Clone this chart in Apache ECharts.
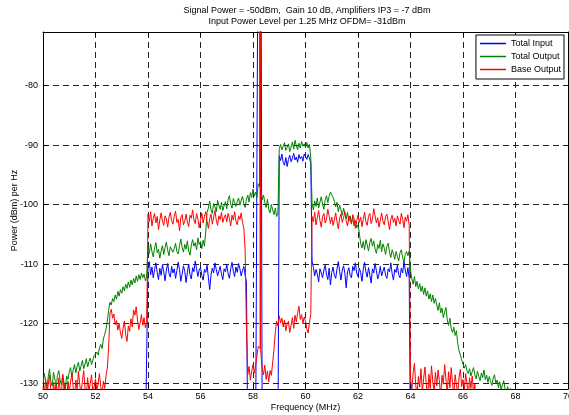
<!DOCTYPE html>
<html><head><meta charset="utf-8">
<script src="https://cdn.jsdelivr.net/npm/echarts@6/dist/echarts.min.js"></script>
<style>html,body{margin:0;padding:0;background:#fff}#c{width:569px;height:415px}</style>
</head><body><div id="c"></div>
<script>
const titleLines = ['Signal Power = -50dBm,  Gain 10 dB, Amplifiers IP3 = -7 dBm', 'Input Power Level per 1.25 MHz OFDM= -31dBm'];
const seriesNames = ['Total Input', 'Total Output', 'Base Output'];
const xAxisName = 'Frequency (MHz)';
const yAxisName = 'Power (dBm) per Hz';
// sampling grid: 50.00 .. 70.00 MHz in 0.05 MHz steps (20 samples per row)
const FREQ_START = 50, FREQ_STEP = 0.05;

const totalInput = [
-140,-140,-140,-140,-140,-140,-140,-140,-140,-140,-140,-140,-140,-140,-140,-140,-140,-140,-140,-140,
-140,-140,-140,-140,-140,-140,-140,-140,-140,-140,-140,-140,-140,-140,-140,-140,-140,-140,-140,-140,
-140,-140,-140,-140,-140,-140,-140,-140,-140,-140,-140,-140,-140,-140,-140,-140,-140,-140,-140,-140,
-140,-140,-140,-140,-140,-140,-140,-140,-140,-140,-140,-140,-140,-140,-140,-140,-140,-140,-140,-140,
-110.2,-109.6,-111.8,-110.5,-112.3,-110.9,-109.8,-111.4,-112.6,-110.7,-111.9,-110.1,-111.3,-112.8,-111.0,-109.9,-111.6,-112.2,-110.4,-111.5,
-110.8,-112.4,-111.1,-109.7,-110.9,-112.9,-111.7,-110.3,-111.2,-113.1,-111.4,-110.0,-111.8,-112.5,-110.6,-111.3,-109.5,-110.8,-112.1,-111.0,
-110.6,-111.9,-112.7,-110.9,-111.4,-110.2,-112.3,-114.3,-111.8,-110.7,-111.5,-109.8,-110.9,-112.0,-111.2,-110.4,-111.7,-112.6,-110.8,-111.3,
-110.1,-111.6,-112.4,-110.8,-109.7,-111.2,-112.1,-110.5,-111.4,-109.9,-110.8,-112.0,-111.1,-110.4,-111.9,-113.0,-140,-140,-140,-140,
-140,-140,-140,-140,-45,-30,-45,-140,-140,-140,-140,-140,-140,-140,-140,-140,-140,-140,-140,-140,
-91.8,-92.6,-91.5,-92.9,-93.4,-92.1,-93.6,-92.4,-91.7,-92.8,-92.2,-91.4,-92.5,-92.0,-92.9,-91.6,-92.3,-91.9,-92.7,-91.5,
-91.8,-92.4,-91.6,-92.2,-93.0,-109.5,-110.6,-112.0,-110.9,-111.7,-113.0,-110.8,-111.5,-112.3,-111.0,-110.2,-111.8,-112.6,-110.7,-113.5,
-111.4,-110.5,-111.9,-112.4,-110.8,-109.6,-111.2,-112.7,-111.0,-110.3,-111.6,-114.0,-111.3,-110.6,-111.9,-112.3,-110.4,-111.1,-109.8,-111.5,
-112.1,-110.7,-111.4,-112.9,-110.9,-109.7,-111.3,-112.2,-110.6,-111.8,-113.2,-110.8,-111.5,-109.9,-111.1,-112.5,-111.7,-110.4,-112.0,-111.2,
-110.5,-111.9,-112.4,-110.8,-111.3,-109.8,-111.6,-112.7,-110.9,-111.4,-110.2,-111.8,-112.3,-110.7,-111.5,-109.6,-111.0,-112.1,-110.6,-112.4,
-140,-140,-140,-140,-140,-140,-140,-140,-140,-140,-140,-140,-140,-140,-140,-140,-140,-140,-140,-140,
-140,-140,-140,-140,-140,-140,-140,-140,-140,-140,-140,-140,-140,-140,-140,-140,-140,-140,-140,-140,
-140,-140,-140,-140,-140,-140,-140,-140,-140,-140,-140,-140,-140,-140,-140,-140,-140,-140,-140,-140,
-140,-140,-140,-140,-140,-140,-140,-140,-140,-140,-140,-140,-140,-140,-140,-140,-140,-140,-140,-140,
-140,-140,-140,-140,-140,-140,-140,-140,-140,-140,-140,-140,-140,-140,-140,-140,-140,-140,-140,-140,
-140,-140,-140,-140,-140,-140,-140,-140,-140,-140,-140,-140,-140,-140,-140,-140,-140,-140,-140,-140,
-140
];

const totalOutput = [
-130.2,-128.4,-129.6,-131.0,-128.9,-127.6,-129.8,-130.5,-128.2,-129.3,-130.8,-128.7,-127.9,-129.5,-130.3,-128.6,-129.9,-131.2,-128.8,-129.4,
-128.1,-127.4,-129.0,-127.8,-126.9,-128.3,-127.2,-126.5,-128.0,-127.1,-126.2,-127.6,-126.8,-125.9,-127.3,-126.4,-125.8,-126.9,-126.1,-125.4,
-125.6,-124.8,-125.3,-124.1,-123.5,-124.2,-122.6,-121.8,-121.0,-119.6,-117.8,-116.4,-116.9,-115.8,-116.3,-115.2,-115.9,-114.6,-115.4,-114.3,
-114.9,-113.8,-114.5,-113.4,-114.1,-113.0,-113.9,-112.7,-113.5,-112.4,-113.2,-112.0,-112.9,-111.8,-112.6,-111.5,-112.3,-111.7,-112.8,-112.0,
-107.0,-108.2,-106.6,-107.9,-108.8,-107.3,-106.4,-108.1,-107.5,-109.0,-107.8,-106.9,-108.4,-107.2,-106.3,-107.7,-108.6,-107.1,-106.8,-108.0,
-107.4,-106.5,-107.9,-108.3,-106.9,-105.8,-107.2,-108.0,-106.7,-107.5,-106.1,-107.8,-108.5,-106.8,-105.9,-107.0,-106.4,-107.6,-105.6,-106.7,
-106.2,-107.4,-106.0,-107.0,-104.5,-101.3,-100.6,-99.4,-100.9,-101.5,-99.8,-100.4,-101.2,-99.3,-100.1,-100.8,-99.6,-101.0,-100.2,-99.5,
-100.7,-99.2,-98.5,-99.9,-100.6,-99.0,-98.7,-100.3,-99.5,-98.9,-100.1,-99.3,-98.6,-99.8,-100.5,-99.1,-98.4,-99.6,-98.0,-98.8,
-97.4,-98.6,-97.9,-98.8,-96.5,-97.0,-97.5,-99.2,-98.4,-99.7,-100.5,-99.1,-100.8,-101.4,-100.0,-100.9,-101.7,-100.6,-102.0,-101.3,
-90.6,-89.9,-90.8,-90.2,-89.6,-90.9,-90.4,-89.8,-91.1,-90.3,-89.5,-90.7,-89.2,-90.1,-90.8,-89.7,-90.5,-89.4,-90.2,-89.8,
-90.4,-89.6,-90.5,-89.9,-92.0,-99.8,-100.9,-99.4,-100.3,-98.9,-100.6,-99.6,-98.7,-99.9,-100.8,-99.2,-98.5,-99.7,-98.6,-97.9,
-97.6,-98.8,-99.5,-100.4,-99.6,-101.2,-100.1,-100.9,-101.8,-100.6,-101.5,-102.4,-101.3,-102.8,-101.9,-103.0,-102.2,-103.6,-102.7,-103.9,
-103.4,-104.8,-106.5,-107.3,-106.2,-107.6,-105.9,-106.8,-107.8,-106.4,-105.7,-107.0,-106.1,-107.5,-108.2,-106.7,-107.4,-106.0,-107.9,-106.6,
-107.3,-108.4,-107.0,-106.5,-108.0,-108.9,-107.6,-108.3,-109.2,-107.9,-108.7,-109.5,-108.1,-107.6,-108.9,-109.7,-108.4,-107.9,-108.6,-107.8,
-111.0,-112.5,-113.4,-112.1,-113.8,-112.9,-114.2,-113.3,-114.6,-113.7,-115.1,-114.0,-115.4,-114.5,-115.9,-115.0,-116.3,-115.2,-116.6,-115.8,
-116.9,-117.8,-116.5,-118.2,-117.4,-119.0,-118.1,-117.3,-119.4,-120.3,-119.1,-120.8,-121.5,-120.6,-122.0,-121.2,-123.4,-124.6,-125.3,-126.1,
-126.8,-127.5,-126.9,-127.9,-128.4,-127.6,-128.8,-128.1,-127.4,-128.6,-129.3,-128.0,-128.9,-129.6,-128.3,-129.1,-127.8,-129.4,-128.7,-129.9,
-128.9,-129.7,-130.4,-129.2,-128.6,-130.1,-129.5,-130.8,-129.8,-131.2,-130.3,-129.6,-130.9,-131.5,-130.6,-131.8,-130.9,-131.6,-132.2,-131.4,
-133,-133,-133,-133,-133,-133,-133,-133,-133,-133,-133,-133,-133,-133,-133,-133,-133,-133,-133,-133,
-133,-133,-133,-133,-133,-133,-133,-133,-133,-133,-133,-133,-133,-133,-133,-133,-133,-133,-133,-133,
-133
];

const baseOutput = [
-130.6,-131.8,-129.4,-132.5,-130.1,-128.7,-131.3,-133.0,-129.9,-131.6,-130.4,-132.8,-129.2,-130.9,-132.1,-128.5,-131.0,-130.2,-133.4,-129.7,
-131.5,-129.8,-128.3,-130.7,-132.4,-129.5,-131.1,-128.0,-130.3,-131.9,-129.6,-127.9,-130.8,-132.2,-129.1,-131.4,-130.0,-128.6,-131.7,-130.5,
-129.3,-131.2,-130.1,-128.4,-130.6,-131.8,-129.7,-130.9,-128.8,-127.5,-124.0,-118.3,-117.6,-119.1,-118.4,-120.2,-119.5,-121.1,-120.0,-121.6,
-122.5,-120.8,-119.6,-121.9,-123.0,-120.4,-121.3,-119.2,-120.6,-117.7,-118.6,-117.2,-119.4,-121.0,-119.9,-118.5,-120.3,-119.0,-120.7,-119.8,
-101.6,-102.9,-101.2,-103.6,-102.3,-101.5,-103.1,-102.0,-104.2,-102.6,-101.4,-102.8,-103.5,-101.9,-102.4,-103.8,-102.1,-101.3,-102.7,-103.3,
-102.0,-101.1,-103.0,-102.5,-104.4,-102.2,-101.7,-103.4,-102.8,-101.6,-102.9,-103.7,-101.8,-102.3,-100.9,-102.6,-103.2,-101.5,-102.4,-103.9,
-102.7,-101.4,-103.1,-102.0,-101.2,-102.8,-104.0,-102.4,-101.6,-103.3,-102.1,-101.0,-102.6,-103.5,-101.9,-102.5,-101.3,-103.0,-102.2,-101.7,
-102.9,-101.5,-102.3,-103.6,-101.8,-102.6,-101.2,-102.8,-103.4,-101.9,-102.5,-101.4,-103.0,-104.0,-107.5,-121.0,-128.6,-127.2,-129.5,-128.0,
-126.9,-128.3,-127.0,-125.4,-123.8,-124.0,-124.5,-127.5,-128.6,-127.0,-129.4,-128.0,-129.8,-127.9,-128.7,-126.5,-124.3,-121.5,-119.6,-120.4,
-118.7,-119.9,-119.1,-120.6,-119.4,-121.2,-120.1,-119.6,-121.5,-120.3,-119.0,-120.8,-118.6,-119.7,-118.2,-117.1,-119.3,-118.5,-120.0,-118.9,
-119.6,-120.9,-121.6,-119.8,-118.5,-102.0,-102.9,-101.3,-103.4,-102.2,-101.0,-102.7,-103.8,-102.0,-101.5,-103.1,-102.4,-100.8,-101.9,-103.2,
-102.1,-103.5,-102.6,-101.4,-102.9,-104.1,-102.3,-101.6,-103.0,-102.2,-101.2,-102.8,-103.6,-101.9,-102.5,-103.3,-101.7,-102.4,-104.0,-102.7,
-101.8,-103.0,-102.1,-103.7,-102.5,-101.3,-102.9,-103.5,-102.0,-101.5,-103.2,-102.4,-100.7,-101.9,-103.1,-102.2,-103.8,-102.6,-101.4,-102.8,
-103.4,-102.0,-101.6,-102.9,-104.2,-102.5,-101.8,-103.0,-102.3,-103.6,-101.9,-102.7,-103.3,-101.5,-102.4,-103.9,-102.1,-102.8,-101.7,-103.5,
-129.0,-131.2,-128.3,-126.7,-130.4,-132.0,-128.9,-130.7,-127.6,-131.5,-129.2,-127.3,-130.1,-132.6,-128.5,-130.9,-127.1,-129.8,-131.4,-128.2,
-130.5,-127.8,-129.6,-132.3,-128.7,-130.2,-126.9,-129.3,-131.7,-128.1,-130.8,-127.4,-129.9,-132.1,-128.6,-130.3,-131.8,-129.0,-127.7,-130.6,
-129.4,-131.3,-128.4,-130.0,-132.5,-129.1,-130.9,-128.8,-131.6,-130.2,-133.0,-131.5,-132.8,-134.0,-133.2,-134.5,-133.6,-134.8,-135.0,-134.2,
-135,-135,-135,-135,-135,-135,-135,-135,-135,-135,-135,-135,-135,-135,-135,-135,-135,-135,-135,-135,
-135,-135,-135,-135,-135,-135,-135,-135,-135,-135,-135,-135,-135,-135,-135,-135,-135,-135,-135,-135,
-135,-135,-135,-135,-135,-135,-135,-135,-135,-135,-135,-135,-135,-135,-135,-135,-135,-135,-135,-135,
-135
];

// narrow CW carrier (goes off the top of the chart), inserted between the 58.25 and 58.30 samples
const carrierFreqs = [58.27, 58.27, 58.29, 58.29];
const carrierOutput = [-97.2, -40, -40, -97.4];
const carrierBase = [-124.2, -40, -40, -124.4];

const seriesValues = [totalInput, totalOutput, baseOutput];
const seriesCarrier = [null, carrierOutput, carrierBase];
const seriesColors = ['#0000ff', '#008000', '#ff0000'];
const FONT = "'Liberation Sans', Arial, Helvetica, sans-serif";

const freqAt = i => +(FREQ_START + i * FREQ_STEP).toFixed(2);
function buildData(values, carrier) {
  const out = [];
  values.forEach((v, i) => {
    const f = freqAt(i);
    out.push([f, v]);
    if (carrier && f === 58.25) carrierFreqs.forEach((cf, j) => out.push([cf, carrier[j]]));
  });
  return out;
}
const gridLine = { show: true, lineStyle: { color: '#222', width: 1, type: [6, 4] } };

const chart = echarts.init(document.getElementById('c'), null, { renderer: 'canvas' });
chart.setOption({
  animation: false,
  backgroundColor: '#fff',
  textStyle: { fontFamily: FONT },
  title: {
    text: titleLines.join('\n'), left: 307, top: 5, padding: 0, textAlign: 'center',
    textStyle: { fontSize: 9, fontWeight: 'normal', lineHeight: 11, color: '#000', fontFamily: FONT }
  },
  legend: {
    data: seriesNames.map((n, k) => ({ name: n, itemStyle: { color: seriesColors[k], borderWidth: 0 } })),
    orient: 'vertical', right: 5, top: 35,
    itemWidth: 26, itemHeight: 1.5, itemGap: 2, icon: 'rect',
    itemStyle: { borderWidth: 0 },
    padding: [3, 3, 4, 4], backgroundColor: '#fff', borderColor: '#000', borderWidth: 1, borderRadius: 0,
    textStyle: { fontSize: 9, lineHeight: 11, color: '#000', fontFamily: FONT }
  },
  grid: { left: 43, right: 1, top: 32, bottom: 26, containLabel: false, outerBoundsMode: 'none' },
  xAxis: [{
    type: 'value', min: 50, max: 70, interval: 2, position: 'bottom',
    name: xAxisName, nameLocation: 'middle', nameGap: 14, nameMoveOverlap: false,
    nameTextStyle: { fontSize: 9, color: '#000', fontFamily: FONT, verticalAlign: 'top' },
    axisLine: { show: true, onZero: false, lineStyle: { color: '#000', width: 1 } },
    axisTick: { show: true, inside: true, length: 5, lineStyle: { color: '#000' } },
    axisLabel: { fontSize: 9, color: '#000', margin: 3, fontFamily: FONT },
    splitLine: gridLine
  }, {
    type: 'value', min: 50, max: 70, interval: 2, position: 'top',
    axisLine: { show: true, onZero: false, lineStyle: { color: '#000', width: 1 } },
    axisTick: { show: true, inside: true, length: 5, lineStyle: { color: '#000' } },
    axisLabel: { show: false }, splitLine: { show: false }
  }],
  yAxis: [{
    type: 'value', min: -131, max: -71, splitNumber: 6, position: 'left',
    name: yAxisName, nameLocation: 'middle', nameGap: 24, nameMoveOverlap: false,
    nameTextStyle: { fontSize: 9, color: '#000', fontFamily: FONT },
    axisLine: { show: true, onZero: false, lineStyle: { color: '#000', width: 1 } },
    axisTick: { show: true, inside: true, length: 5, lineStyle: { color: '#000' } },
    axisLabel: { fontSize: 9, color: '#000', margin: 5, fontFamily: FONT,
      formatter: v => (Math.round(v) % 10 === 0 ? String(Math.round(v)) : '') },
    splitLine: gridLine
  }, {
    type: 'value', min: -131, max: -71, splitNumber: 6, position: 'right',
    axisLine: { show: true, onZero: false, lineStyle: { color: '#000', width: 1 } },
    axisTick: { show: false }, axisLabel: { show: false }, splitLine: { show: false }
  }],
  series: seriesNames.map((name, k) => ({
    name, type: 'line', xAxisIndex: 0, yAxisIndex: 0,
    data: buildData(seriesValues[k], seriesCarrier[k]),
    showSymbol: false, symbol: 'none', clip: true, smooth: false,
    color: seriesColors[k],
    lineStyle: { color: seriesColors[k], width: 1 },
    emphasis: { disabled: true }
  }))
});
</script>
</body></html>
